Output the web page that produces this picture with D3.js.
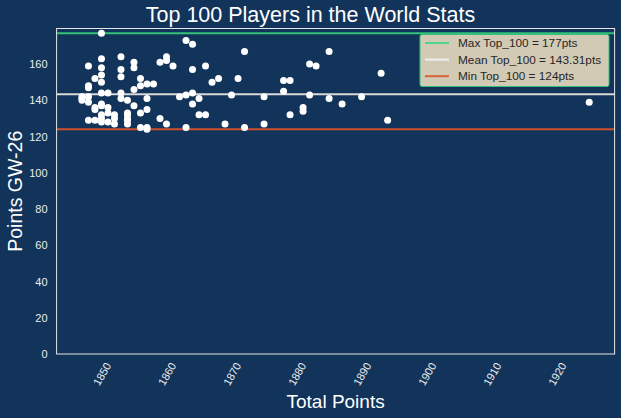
<!DOCTYPE html>
<html>
<head>
<meta charset="utf-8">
<script src="https://cdn.jsdelivr.net/npm/d3@7"></script>
<style>
  body { margin: 0; background: #12345a; }
  svg { display: block; font-family: "Liberation Sans", Arial, sans-serif; }
</style>
</head>
<body>
<svg id="chart" width="621" height="418"></svg>
<script>
// total points of each player (x) and their GW-26 points (y)
var totalPoints = [
  1850, 1863, 1864, 1872, 1885, 1853, 1860, 1850, 1855, 1859,
  1860, 1882, 1848, 1861, 1866, 1883, 1850, 1855, 1853, 1864,
  1893, 1850, 1853, 1849, 1856, 1868, 1871, 1867, 1850, 1878,
  1879, 1857, 1858, 1856, 1848, 1848, 1855, 1878, 1850, 1851,
  1853, 1864, 1863, 1870, 1882, 1847, 1848, 1862, 1875, 1890,
  1853, 1857, 1865, 1885, 1847, 1854, 1925, 1848, 1850, 1864,
  1887, 1855, 1850, 1849, 1851, 1881, 1857, 1849, 1881, 1856,
  1854, 1850, 1851, 1852, 1865, 1866, 1879, 1854, 1850, 1854,
  1859, 1852, 1848, 1849, 1854, 1894, 1850, 1851, 1852, 1854,
  1860, 1869, 1875, 1856, 1857, 1863, 1872, 1857, 1847
];
var gwPoints = [
  177, 173, 171, 167, 167, 164, 164, 163, 161, 161,
  162, 160, 159, 159, 159, 159, 158, 158, 157, 157,
  155, 154, 153, 152, 152, 152, 152, 150, 150, 151,
  151, 149, 149, 148, 148, 147, 146, 145, 144, 144,
  144, 144, 143, 143, 143, 142, 142, 142, 142, 142,
  141, 141, 141, 141, 140, 140, 139, 139, 138, 138,
  138, 137, 137, 136, 136, 136, 135, 135, 134, 133,
  133, 132, 133, 132, 132, 132, 132, 132, 130, 130,
  130, 130, 129, 129, 129, 129, 128, 128, 127, 127,
  127, 127, 127, 125, 125, 125, 125, 124, 141
];

var maxVal = 177, meanVal = 143.31, minVal = 124;
var xTicks = [1850, 1860, 1870, 1880, 1890, 1900, 1910, 1920];
var yTicks = [0, 20, 40, 60, 80, 100, 120, 140, 160];
var legendLabels = [
  "Max Top_100 = 177pts",
  "Mean Top_100 = 143.31pts",
  "Min Top_100 = 124pts"
];

var margin = {top: 28.5, right: 6.4, bottom: 64, left: 56.6};
var width = 621 - margin.left - margin.right;
var height = 418 - margin.top - margin.bottom;

var svg = d3.select("#chart");
var g = svg.append("g")
    .attr("transform", "translate(" + margin.left + "," + margin.top + ")");

// matplotlib style 5% padding
var xMin = d3.min(totalPoints), xMax = d3.max(totalPoints);
var xPad = (xMax - xMin) * 0.05;
var x = d3.scaleLinear()
    .domain([xMin - xPad, xMax + xPad])
    .range([0, width]);

var yPad = (d3.max(gwPoints) - d3.min(gwPoints)) * 0.05;
var y = d3.scaleLinear()
    .domain([0, d3.max(gwPoints) + yPad])
    .range([height, 0]);

// y tick labels
var yAxis = d3.axisLeft(y).tickValues(yTicks).tickSize(0).tickPadding(9);
g.append("g")
    .call(yAxis)
    .call(function(a) { a.select(".domain").remove(); })
    .selectAll("text")
    .attr("fill", "#ececec")
    .style("font-size", "11px")
    .style("font-family", "Liberation Sans, Arial, sans-serif");

// x tick labels, rotated
var xAxis = d3.axisBottom(x).tickValues(xTicks).tickSize(0).tickFormat(d3.format("d"));
g.append("g")
    .attr("transform", "translate(0," + height + ")")
    .call(xAxis)
    .call(function(a) { a.select(".domain").remove(); })
    .selectAll("text")
    .attr("fill", "#ececec")
    .style("font-size", "11px")
    .style("font-family", "Liberation Sans, Arial, sans-serif")
    .attr("text-anchor", "middle")
    .attr("dy", null)
    .attr("y", 0)
    .attr("dominant-baseline", "central")
    .attr("transform", "translate(0,20) rotate(-60)");

// reference lines
var refLines = [
  {v: maxVal, color: "#34c27a"},
  {v: meanVal, color: "#d9d9d9"},
  {v: minVal, color: "#d2512b"}
];
g.selectAll(".ref")
    .data(refLines)
    .enter().append("line")
    .attr("class", "ref")
    .attr("x1", 0)
    .attr("x2", width)
    .attr("y1", function(d) { return y(d.v); })
    .attr("y2", function(d) { return y(d.v); })
    .attr("stroke", function(d) { return d.color; })
    .attr("stroke-width", 2);

// points
var pts = totalPoints.map(function(t, i) { return {x: t, y: gwPoints[i]}; });
g.selectAll(".dot")
    .data(pts)
    .enter().append("circle")
    .attr("class", "dot")
    .attr("cx", function(d) { return x(d.x); })
    .attr("cy", function(d) { return y(d.y); })
    .attr("r", 3.5)
    .attr("fill", "#ffffff");

// frame
g.append("rect")
    .attr("width", width)
    .attr("height", height)
    .attr("fill", "none")
    .attr("stroke", "#e6e6e6")
    .attr("stroke-width", 1);

// legend
var leg = g.append("g").attr("transform", "translate(" + (420 - margin.left) + "," + (34.5 - margin.top) + ")");
leg.append("rect")
    .attr("width", 189)
    .attr("height", 52)
    .attr("rx", 2)
    .attr("fill", "#d3cab5")
    .attr("stroke", "#34c27a")
    .attr("stroke-width", 1);
legendLabels.forEach(function(lbl, i) {
  var ly = 8.5 + i * 16.6;
  leg.append("line")
      .attr("x1", 5).attr("x2", 29)
      .attr("y1", ly).attr("y2", ly)
      .attr("stroke", i === 0 ? "#4fd88c" : (i === 1 ? "#efefef" : "#d9623b"))
      .attr("stroke-width", 2);
  leg.append("text")
      .attr("x", 38)
      .attr("y", ly)
      .attr("dominant-baseline", "central")
      .attr("fill", "#262626")
      .style("font-size", "11.8px")
      .text(lbl);
});

// titles
svg.append("text")
    .attr("x", 310.5)
    .attr("y", 22)
    .attr("text-anchor", "middle")
    .attr("fill", "#ffffff")
    .style("font-size", "21.5px")
    .text("Top 100 Players in the World Stats");

svg.append("text")
    .attr("x", margin.left + width / 2)
    .attr("y", 408)
    .attr("text-anchor", "middle")
    .attr("fill", "#ffffff")
    .style("font-size", "19px")
    .text("Total Points");

svg.append("text")
    .attr("transform", "translate(22," + (margin.top + height / 2) + ") rotate(-90)")
    .attr("text-anchor", "middle")
    .attr("fill", "#ffffff")
    .style("font-size", "19.5px")
    .text("Points GW-26");
</script>
</body>
</html>
